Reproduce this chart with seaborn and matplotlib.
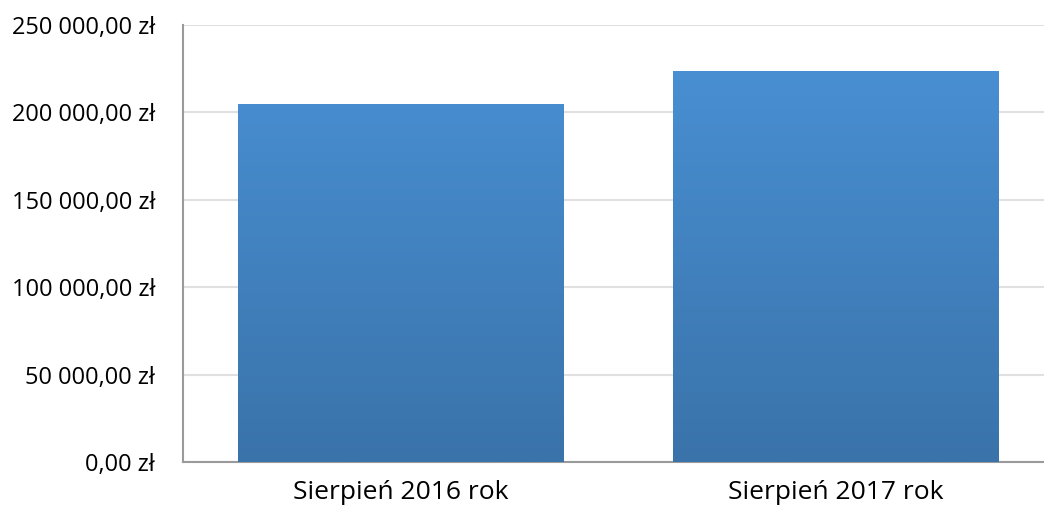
import numpy as np
import pandas as pd
import matplotlib
matplotlib.use("Agg")
import matplotlib.pyplot as plt
from matplotlib.colors import LinearSegmentedColormap
from matplotlib.ticker import FuncFormatter, MultipleLocator
import seaborn as sns

categories = ["Sierpień 2016 rok", "Sierpień 2017 rok"]
values = [204800, 223700]

sns.set_theme(style="white")
plt.rcParams["font.family"] = ["Open Sans", "DejaVu Sans"]

df = pd.DataFrame({"okres": categories, "kwota": values})

fig = plt.figure(figsize=(10.44, 5.07), dpi=100)
ax = fig.add_axes([0.1753, 0.0888, 0.8333, 0.8619])

sns.barplot(data=df, x="okres", y="kwota", ax=ax, width=0.749,
            color="#4a90d4", saturation=1, edgecolor="none", zorder=2)

# gradient na słupkach
cmap = LinearSegmentedColormap.from_list("grad", ["#3a73aa", "#4a92d7"])
grad = np.linspace(0, 1, 256).reshape(-1, 1)
for bar in ax.patches:
    x0, w = bar.get_x(), bar.get_width()
    im = ax.imshow(grad, extent=[x0, x0 + w, 0, 250000], origin="lower",
                   cmap=cmap, aspect="auto", zorder=3)
    im.set_clip_path(bar)
ax.set_aspect("auto")
ax.set_xlim(-0.5, 1.5)
ax.set_ylim(0, 250000)

fmt = lambda v, p: f"{v:,.2f}".replace(",", " ").replace(".", ",") + " zł"
ax.yaxis.set_major_formatter(FuncFormatter(fmt))
ax.yaxis.set_major_locator(MultipleLocator(50000))
ax.yaxis.grid(True, color="#e0e0e0", linewidth=1.5, zorder=0)
ax.set_axisbelow(True)

for s in ["top", "right"]:
    ax.spines[s].set_visible(False)
for s in ["left", "bottom"]:
    ax.spines[s].set_color("#9a9a9a")
    ax.spines[s].set_linewidth(1.5)

ax.tick_params(axis="y", length=0, pad=20, labelsize=17, labelcolor="#000000")
ax.tick_params(axis="x", length=0, pad=13, labelsize=19, labelcolor="#000000")
ax.set_xlabel("")
ax.set_ylabel("")

fig.savefig("out.png", dpi=100)
